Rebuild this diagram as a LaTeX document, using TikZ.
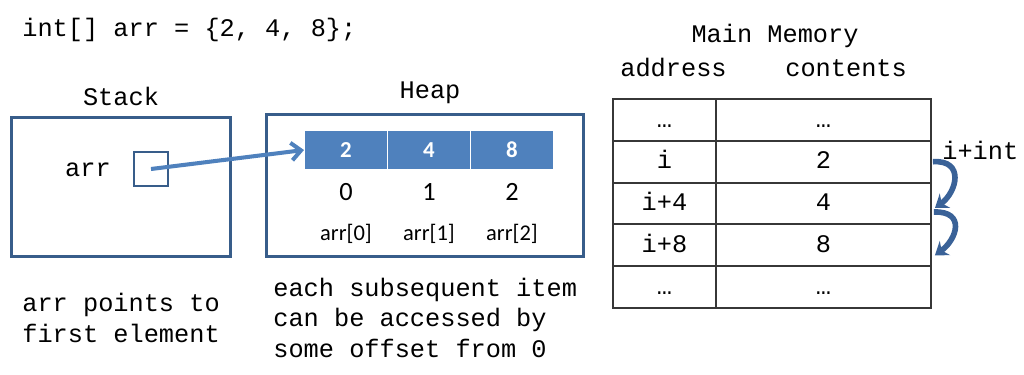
\documentclass[tikz,border=0pt]{standalone}
\usepackage{fontspec}
\usepackage{tikz}
\usetikzlibrary{arrows.meta, positioning, calc}
\setmainfont{Liberation Mono}
\newfontfamily\calibrifont{Carlito}
\definecolor{boxblue}{RGB}{56, 93, 138}
\definecolor{cellblue}{RGB}{79, 129, 189}
\definecolor{hopblue}{RGB}{58, 98, 152}
\definecolor{gridgray}{RGB}{55, 55, 55}
\newcommand{\codesize}{\fontsize{14.4}{17.1}\selectfont}

\begin{document}
\begin{tikzpicture}[x=0.02cm, y=-0.02cm,
  code/.style={font=\codesize, inner sep=0pt},
  region/.style={draw=boxblue, line width=1.7pt, inner sep=0pt},
  cell/.style={fill=cellblue, draw=white, line width=0.6pt, minimum width=1.66cm, minimum height=0.8cm,
    inner sep=0pt, text=white, font=\calibrifont\bfseries\fontsize{13}{15}\selectfont},
  idx/.style={inner sep=0pt, font=\calibrifont\fontsize{15}{17}\selectfont},
  idxname/.style={inner sep=0pt, font=\calibrifont\fontsize{12.8}{15}\selectfont},
  memcell/.style={draw=gridgray, line width=1.1pt, minimum height=0.836cm, inner sep=0pt,
    text height=8.3pt, text depth=0pt, font=\codesize},
  ptr/.style={cellblue, line width=2.3pt, -{Straight Barb[length=5.5pt, width=10pt]}},
  hop/.style={hopblue, line width=3.2pt, -{Stealth[length=7pt, width=10pt]}}]
  \useasboundingbox (0,0) rectangle (1024,375);

  % declaration
  \node[code, anchor=base west] (decl) at (22,37) {int[] arr = \{2, 4, 8\};};

  % stack frame
  \node[code, anchor=base] (stacklbl) at (121,106) {Stack};
  \node[region, minimum width=4.4cm, minimum height=2.8cm] (stack) at (121,187) {};
  \node[code, anchor=base] (arrlbl) at (88,176) {arr};
  \node[region, minimum width=0.68cm, minimum height=0.68cm] (sq) at (151,169) {};

  % heap with the array
  \node[code, anchor=base] (heaplbl) at (430,99) {Heap};
  \node[region, minimum width=6.36cm, minimum height=2.86cm] (heap) at (425,185.5) {};
  \foreach \v [count=\n from 0] in {2,4,8} {
    \node[cell] (e\n) at (346+83*\n,150) {\v};
    \node[idx, anchor=base] (i\n) at (346+83*\n,200) {\n};
    \node[idxname, anchor=base] (n\n) at (346+83*\n,240) {arr[\n]};
  }
  \draw[ptr] (sq.center) -- (e0.west);

  % notes (base = last line)
  \node[code, anchor=base west, align=left] (note1) at (22,342) {arr points to\\first element};
  \node[code, anchor=base west, align=left] (note2) at (273,357) {each subsequent item\\can be accessed by\\some offset from 0};

  % main memory table
  \node[code, anchor=base] (memlbl) at (775,43) {Main Memory};
  \node[code, anchor=base west] (addrlbl) at (620,77) {address};
  \node[code, anchor=base west] (contlbl) at (785,77) {contents};
  \foreach \a/\c [count=\n] in {…/…, i/2, i+4/4, i+8/8, …/…} {
    \node[memcell, minimum width=2.06cm] (ad\n) at (664.5,78.1+41.8*\n) {\a};
    \node[memcell, minimum width=4.3cm] (ct\n) at (823.5,78.1+41.8*\n) {\c};
  }

  % address steps
  \node[code, anchor=base west] (steplbl) at (942,159) {i+int};
  \draw[hop] ($(ct2.east)+(1,0)$) .. controls +(32,-2) and +(22,-16) .. ($(ct3.east)+(3,4.5)$);
  \draw[hop] ($(ct3.east)+(2,8.5)$) .. controls +(32,-1) and +(22,-16) .. ($(ct4.east)+(3,10)$);
\end{tikzpicture}
\end{document}
